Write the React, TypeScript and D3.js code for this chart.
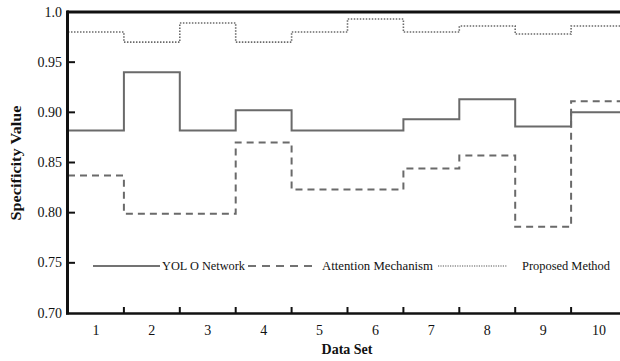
import React from "react";
import * as d3 from "d3";

const categories = ["1", "2", "3", "4", "5", "6", "7", "8", "9", "10"];
const yoloValues = [0.882, 0.94, 0.882, 0.902, 0.882, 0.882, 0.893, 0.913, 0.886, 0.9];
const attentionValues = [0.837, 0.799, 0.799, 0.87, 0.823, 0.823, 0.844, 0.857, 0.786, 0.911];
const proposedValues = [0.98, 0.97, 0.989, 0.97, 0.98, 0.993, 0.98, 0.986, 0.978, 0.986];
const yTicks = [0.7, 0.75, 0.8, 0.85, 0.9, 0.95, 1.0];
const yTickLabels = ["0.70", "0.75", "0.80", "0.85", "0.90", "0.95", "1.0"];
const seriesNames = ["YOL O Network", "Attention Mechanism", "Proposed Method"];

const W = 620;
const H = 361;
const FONT = "Liberation Serif, Times New Roman, DejaVu Serif, serif";
const LINE_COLOR = "#6a6a6a";

export default function App() {
  const x = d3.scaleBand<string>().domain(categories).range([68, 627]).padding(0);
  const y = d3.scaleLinear().domain([0.7, 1.0]).range([313, 12]);

  const stepPath = (vals: number[]) => {
    const pts: [number, number][] = vals.map((v, i) => [x(categories[i]) as number, y(v)]);
    pts.push([(x(categories[categories.length - 1]) as number) + x.bandwidth(), y(vals[vals.length - 1])]);
    return d3.line().curve(d3.curveStepAfter)(pts) as string;
  };

  const series = [
    { vals: yoloValues, dash: "none", width: 2 },
    { vals: attentionValues, dash: "7 5", width: 2 },
    { vals: proposedValues, dash: "1.5 1.5", width: 1.6 },
  ];

  const legendItems = [
    { x1: 93, x2: 160, tx: 162, tw: 83, dash: "none", width: 1.5, color: "#444" },
    { x1: 248, x2: 318, tx: 322, tw: 111, dash: "8 6", width: 1.5, color: "#444" },
    { x1: 438, x2: 507, tx: 522, tw: 88, dash: "1.2 1.2", width: 1.2, color: "#555" },
  ];

  const tStyle = { fontFamily: FONT };

  return (
    <svg
      width={W}
      height={H}
      style={{ position: "absolute", left: 0, top: 0, background: "#fff", fontFamily: FONT }}
    >
      <rect x={0} y={0} width={W} height={H} fill="#fff" />
      {series.map((s, i) => (
        <path
          key={i}
          d={stepPath(s.vals)}
          fill="none"
          stroke={LINE_COLOR}
          strokeWidth={s.width}
          strokeDasharray={s.dash}
        />
      ))}
      {/* top border */}
      <line x1={67} x2={W} y1={12} y2={12} stroke="#111" strokeWidth={3} />
      {/* left axis */}
      <line x1={67.5} x2={67.5} y1={10.5} y2={314.5} stroke="#111" strokeWidth={3} />
      {/* bottom axis */}
      <line x1={66} x2={W} y1={313.5} y2={313.5} stroke="#111" strokeWidth={2.5} />
      {yTicks.map((t, i) => (
        <g key={t}>
          {i > 0 && i < yTicks.length - 1 && (
            <line x1={68} x2={75} y1={y(t)} y2={y(t)} stroke="#111" strokeWidth={2} />
          )}
          <text x={62} y={y(t) + 4.5} textAnchor="end" fontSize={14} fill="#111" style={tStyle}>
            {yTickLabels[i]}
          </text>
        </g>
      ))}
      {categories.map((c, i) => (
        <g key={c}>
          {i > 0 && (
            <line
              x1={x(c) as number}
              x2={x(c) as number}
              y1={313}
              y2={307}
              stroke="#111"
              strokeWidth={2}
            />
          )}
          <text
            x={(x(c) as number) + x.bandwidth() / 2}
            y={335}
            textAnchor="middle"
            fontSize={14}
            fill="#111"
            style={tStyle}
          >
            {c}
          </text>
        </g>
      ))}
      <text x={347} y={354} textAnchor="middle" fontSize={14} fontWeight="bold" fill="#111" style={tStyle}>
        Data Set
      </text>
      <text
        transform="translate(21,163) rotate(-90)"
        textAnchor="middle"
        fontSize={14}
        fontWeight="bold"
        fill="#111"
        textLength={115}
        lengthAdjust="spacingAndGlyphs"
        style={tStyle}
      >
        Specificity Value
      </text>
      {legendItems.map((l, i) => (
        <g key={i}>
          <line
            x1={l.x1}
            x2={l.x2}
            y1={266}
            y2={266}
            stroke={l.color}
            strokeWidth={l.width}
            strokeDasharray={l.dash}
          />
          <text
            x={l.tx}
            y={270}
            fontSize={12}
            fill="#111"
            textLength={l.tw}
            lengthAdjust="spacingAndGlyphs"
            style={tStyle}
          >
            {seriesNames[i]}
          </text>
        </g>
      ))}
    </svg>
  );
}
